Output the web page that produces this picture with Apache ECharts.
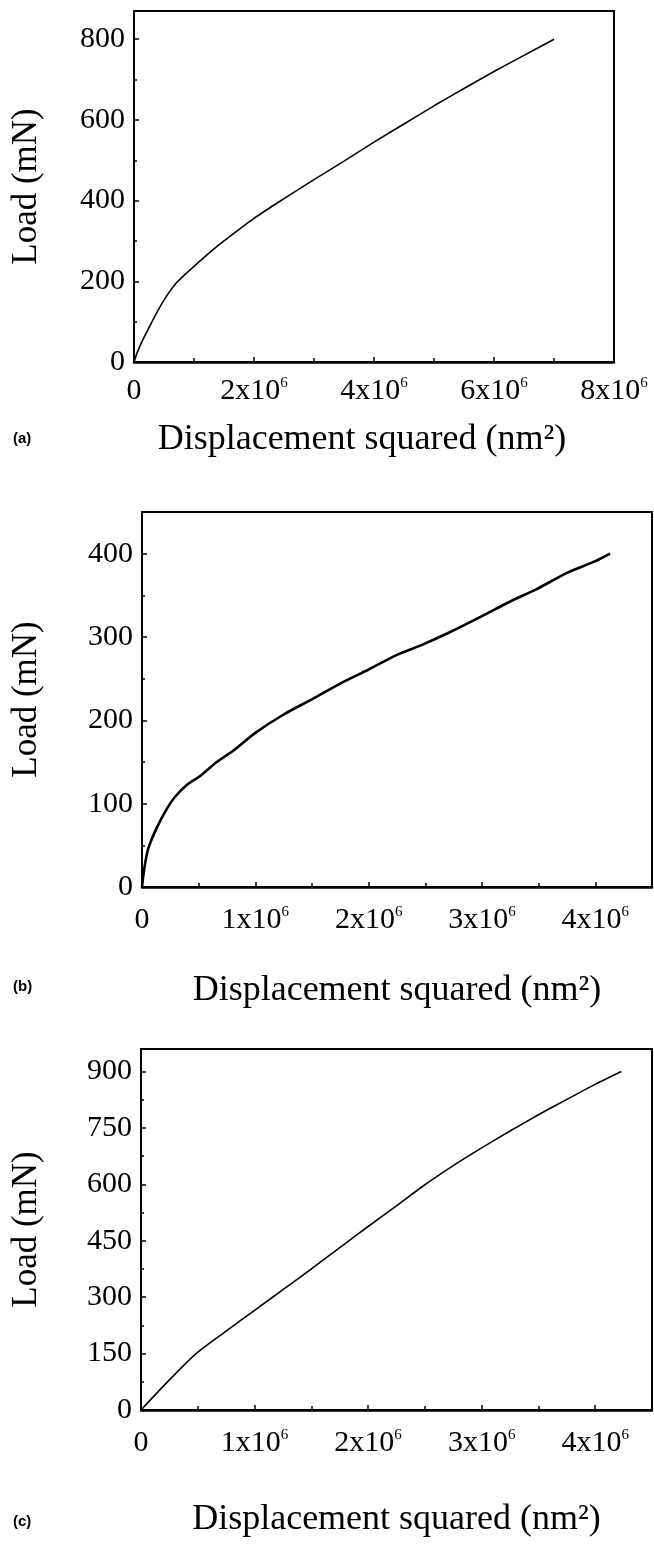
<!DOCTYPE html>
<html>
<head>
<meta charset="utf-8">
<script src="https://cdn.jsdelivr.net/npm/echarts@6/dist/echarts.min.js"></script>
<style>
  html, body { margin: 0; padding: 0; background: #fff; }
  #main { width: 654px; height: 1547px; }
</style>
</head>
<body>
<div id="main"></div>
<script>
// displacement squared in units of 1e6 nm^2, load in mN
var aDisp = [0, 0.05, 0.125, 0.25, 0.4, 0.55, 0.7, 0.85, 1.0, 1.25, 1.5, 2.0, 2.5, 3.0, 3.5, 4.0, 4.5, 5.0, 5.5, 6.0, 6.5, 7.0];
var aLoad = [0, 22, 48, 85, 128, 165, 195, 217, 237, 270, 300, 356, 405, 452, 498, 545, 590, 635, 678, 720, 760, 800];

var bDisp = [0, 0.02, 0.055, 0.13, 0.22, 0.29, 0.4, 0.51, 0.66, 0.81, 1.0, 1.25, 1.51, 1.76, 2.0, 2.24, 2.46, 2.72, 3.0, 3.24, 3.49, 3.75, 4.0, 4.13];
var bLoad = [0, 22, 46, 71, 94, 108, 123, 133, 150, 164, 185, 207, 226, 245, 261, 278, 290, 306, 325, 342, 358, 377, 391, 400];

var cDisp = [0, 0.25, 0.485, 0.75, 1.0, 1.25, 1.5, 1.83, 2.0, 2.25, 2.49, 2.75, 3.0, 3.25, 3.5, 3.75, 4.0, 4.23];
var cLoad = [0, 80, 150, 210, 265, 320, 375, 450, 488, 543, 597, 650, 697, 742, 785, 826, 866, 900];

var panelLabels = ['(a)', '(b)', '(c)'];
var xTitle = 'Displacement squared (nm\u00b2)';
var yTitle = 'Load (mN)';

var serif = 'Liberation Serif, Times New Roman, serif';

function zip(xs, ys) {
  return xs.map(function (x, i) { return [x, ys[i]]; });
}

function xLabel(step) {
  return function (v) {
    if (Math.abs(v / step - Math.round(v / step)) > 1e-6) return '';
    if (v === 0) return '{n|0}';
    return '{n|' + v + 'x10}{s|6}';
  };
}

function yLabel(step) {
  return function (v) {
    if (v % step !== 0) return '';
    return v;
  };
}

function makeX(idx, max, step, showMax, margin, nameGap, namePad) {
  return {
    type: 'value', gridIndex: idx, min: 0, max: max, interval: step,
    name: xTitle, nameLocation: 'middle', nameGap: nameGap,
    nameTextStyle: { fontFamily: serif, fontSize: 36, color: '#000', padding: namePad },
    axisLine: { show: true, lineStyle: { color: '#000', width: 2.5 } },
    axisTick: { show: true, inside: true, length: 5, lineStyle: { color: '#000', width: 1.5 } },
    minorTick: { show: true, splitNumber: 2, length: 4, lineStyle: { color: '#000', width: 1.5 } },
    splitLine: { show: false },
    axisLabel: {
      margin: margin, showMaxLabel: showMax, color: '#000',
      formatter: xLabel(step),
      rich: {
        n: { fontFamily: serif, fontSize: 30, color: '#000' },
        s: { fontFamily: serif, fontSize: 15, color: '#000', verticalAlign: 'top' }
      }
    }
  };
}

function makeY(idx, max, step, nameGap) {
  return {
    type: 'value', gridIndex: idx, min: 0, max: max, interval: step,
    name: yTitle, nameLocation: 'middle', nameGap: nameGap, nameRotate: 90,
    nameTextStyle: { fontFamily: serif, fontSize: 35, color: '#000' },
    axisLine: { show: true, lineStyle: { color: '#000', width: 1.5 } },
    axisTick: { show: true, inside: true, length: 5, lineStyle: { color: '#000', width: 1.5 } },
    minorTick: { show: true, splitNumber: 2, length: 3, lineStyle: { color: '#000', width: 1.5 } },
    splitLine: { show: false },
    axisLabel: {
      margin: 9, showMaxLabel: false, color: '#000',
      fontFamily: serif, fontSize: 30,
      formatter: yLabel(step)
    }
  };
}

var chart = echarts.init(document.getElementById('main'), null, { renderer: 'canvas' });

var gridBase = {
  show: true, borderColor: '#000', borderWidth: 2, backgroundColor: 'transparent',
  containLabel: false, outerBoundsMode: 'none'
};

var option = {
  backgroundColor: '#fff',
  animation: false,
  title: panelLabels.map(function (t, i) {
    return {
      text: t, left: 8, top: [426, 974, 1509][i],
      textStyle: { fontFamily: 'Liberation Sans, Arial, sans-serif', fontSize: 15, fontWeight: 'bold', color: '#000' }
    };
  }),
  grid: [
    Object.assign({ left: 134, top: 11, width: 480, height: 351 }, gridBase),
    Object.assign({ left: 142, top: 512, width: 510, height: 375 }, gridBase),
    Object.assign({ left: 141, top: 1049, width: 511, height: 361 }, gridBase)
  ],
  xAxis: [
    makeX(0, 8, 2, true, 14, 60, [0, 24, 0, 0]),
    makeX(1, 4.5, 1, false, 18, 86, 0),
    makeX(2, 4.5, 1, false, 18, 92, 0)
  ],
  yAxis: [
    makeY(0, 870, 200, 90),
    makeY(1, 450, 100, 98),
    makeY(2, 960, 150, 97)
  ],
  series: [
    { type: 'line', xAxisIndex: 0, yAxisIndex: 0, data: zip(aDisp, aLoad), showSymbol: false, smooth: 0.25,
      lineStyle: { color: '#000', width: 1.6 } },
    { type: 'line', xAxisIndex: 1, yAxisIndex: 1, data: zip(bDisp, bLoad), showSymbol: false, smooth: 0.25,
      lineStyle: { color: '#000', width: 2.6 } },
    { type: 'line', xAxisIndex: 2, yAxisIndex: 2, data: zip(cDisp, cLoad), showSymbol: false, smooth: 0.25,
      lineStyle: { color: '#000', width: 1.6 } }
  ]
};

chart.setOption(option);
</script>
</body>
</html>
